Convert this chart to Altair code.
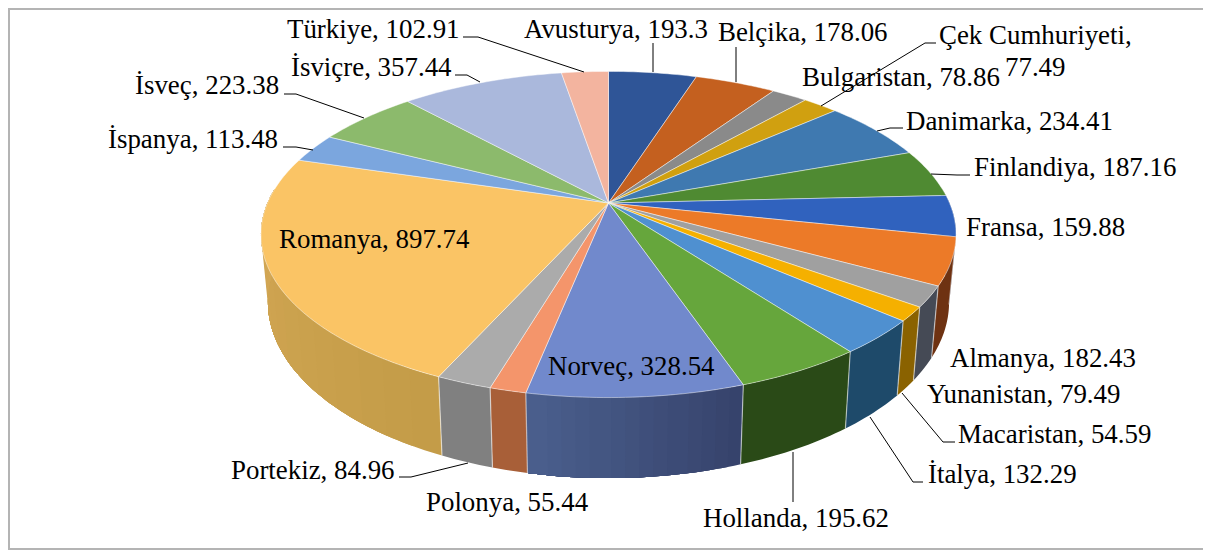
import math
import altair as alt

names = ["Avusturya", "Belçika", "Bulgaristan", "Çek Cumhuriyeti", "Danimarka", "Finlandiya", "Fransa",
         "Almanya", "Yunanistan", "Macaristan", "İtalya", "Hollanda", "Norveç", "Polonya", "Portekiz",
         "Romanya", "İspanya", "İsveç", "İsviçre", "Türkiye"]
values = [193.3, 178.06, 78.86, 77.49, 234.41, 187.16, 159.88, 182.43, 79.49, 54.59, 132.29, 195.62,
          328.54, 55.44, 84.96, 897.74, 113.48, 223.38, 357.44, 102.91]
top_colors = ["#2F5597", "#C4601F", "#8A8A8A", "#D0A010", "#3F79B0", "#4F8A32", "#3062BE", "#EC7A28",
              "#A0A0A0", "#F5B000", "#4F90D0", "#66A63C", "#7189CC", "#F4956B", "#ABABAB", "#FAC465",
              "#7BA6DE", "#8CBA6C", "#AAB8DC", "#F3B49F"]
side_start = ["#1F3864", "#843C0C", "#555555", "#7F6000", "#1F4E79", "#385723", "#203864", "#6E3212",
              "#454A55", "#8A6200", "#1E4A6A", "#2A4A17", "#36436C", "#A85F38", "#808080", "#C49C48",
              "#4A6A9A", "#5A7A40", "#6A78A0", "#A07060"]
side_end = ["#1F3864", "#843C0C", "#555555", "#7F6000", "#1F4E79", "#385723", "#203864", "#6E3212",
            "#454A55", "#8A6200", "#1E4A6A", "#2A4A17", "#4A5E8C", "#A85F38", "#808080", "#D4A855",
            "#4A6A9A", "#5A7A40", "#6A78A0", "#A07060"]

# layout of the picture, in page pixels
OFF = 8
W, H = 1195, 542
CX, CY, A, B, K, DEPTH, SHRINK = 608.5, 203.0, 341.0, 157.0, 0.193, 65.0, 0.98
FONT_SIZE = 26.9

label_lines = [
    ("Avusturya, 193.3", 524, 38), ("Belçika, 178.06", 718, 41), ("Bulgaristan, 78.86", 802, 86),
    ("Çek Cumhuriyeti,", 939, 44), ("77.49", 1005, 76), ("Danimarka, 234.41", 906, 130),
    ("Finlandiya, 187.16", 974, 176), ("Fransa, 159.88", 966, 236), ("Almanya, 182.43", 950, 367),
    ("Yunanistan, 79.49", 927, 403), ("Macaristan, 54.59", 958, 443), ("İtalya, 132.29", 928, 483),
    ("Hollanda, 195.62", 703, 527), ("Norveç, 328.54", 548, 375), ("Polonya, 55.44", 426, 511),
    ("Portekiz, 84.96", 231, 479), ("Romanya, 897.74", 279, 248), ("İspanya, 113.48", 108, 148),
    ("İsveç, 223.38", 135, 94), ("İsviçre, 357.44", 291, 76), ("Türkiye, 102.91", 287, 38),
]
leaders = [
    [(463, 37), (478, 37), (584, 72)], [(455, 75), (467, 75), (480, 82)],
    [(284, 94), (296, 94), (364, 118)], [(283, 147), (296, 147), (313, 150)],
    [(653, 43), (653, 72)], [(736, 47), (736, 82)],
    [(936, 43), (925, 43), (821, 106)], [(903, 128), (890, 128), (877, 131)],
    [(970, 175), (957, 175), (931, 174)], [(955, 442), (943, 442), (902, 393)],
    [(923, 482), (913, 482), (870, 417)], [(793, 452), (793, 502)],
    [(399, 477), (411, 477), (468, 463)],
]


def project(t, depth=0.0):
    """Disc angle (clockwise from 12 o'clock) to picture position, with perspective."""
    X, Y = math.sin(t), -math.cos(t)
    w = 1 - K * Y
    sx = SHRINK if depth else 1.0
    return (CX + sx * A * X / w - OFF, CY + (B * Y + depth) / w - OFF)


def poly(points, fill, stroke="#ffffff"):
    pts = [list(p) for p in points]
    pts.append(pts[0])
    return {"type": "Feature", "properties": {"fill": fill, "stroke": stroke},
            "geometry": {"type": "Polygon", "coordinates": [pts]}}


def line(points):
    return {"type": "Feature", "properties": {},
            "geometry": {"type": "LineString", "coordinates": [list(p) for p in points]}}


def mix(c0, c1, f):
    a = [int(c0[i:i + 2], 16) for i in (1, 3, 5)]
    b = [int(c1[i:i + 2], 16) for i in (1, 3, 5)]
    return "#" + "".join(f"{round(x + (y - x) * f):02X}" for x, y in zip(a, b))


total = sum(values)
angles = [0.0]
for v in values:
    angles.append(angles[-1] + v / total * 2 * math.pi)

tops, walls, seams = [], [], []
for i, (a0, a1) in enumerate(zip(angles[:-1], angles[1:])):
    n = max(2, int((a1 - a0) * 60))
    ts = [a0 + (a1 - a0) * j / n for j in range(n + 1)]
    tops.append(poly([(CX - OFF, CY - OFF)] + [project(t) for t in ts], top_colors[i]))
    # only the part of the wall that faces the viewer
    fs = [t for t in ts if -math.cos(t) > -0.1]
    if len(fs) >= 2:
        # shaded walls are painted over one another, each from its step to the slice's end
        steps = 1 if side_start[i] == side_end[i] else 14
        for s in range(steps):
            rest = fs[s * (len(fs) - 1) // steps:]
            c = mix(side_start[i], side_end[i], s / max(1, steps - 1))
            walls.append(poly([project(t) for t in rest] + [project(t, DEPTH) for t in reversed(rest)], c, c))
    if -math.cos(a0) > 0.1:
        seams.append(line([project(a0), project(a0, DEPTH)]))

fit_box = [{"type": "Feature", "properties": {},
            "geometry": {"type": "Polygon", "coordinates": [[[0, 0], [W, 0], [W, H], [0, H], [0, 0]]]}}]
frame = [line([(W, 1), (1, 1), (1, H - 1), (W, H - 1)])]

box = alt.Chart(alt.Data(values=fit_box)).mark_geoshape(fillOpacity=0, strokeOpacity=0, fill="#ffffff")
frm = alt.Chart(alt.Data(values=frame)).mark_geoshape(filled=False, stroke="#B4B4B4", strokeWidth=2)

wall_layer = alt.Chart(alt.Data(values=walls)).mark_geoshape(strokeWidth=0).encode(
    fill=alt.Fill("properties.fill:N", scale=None))
seam_layer = alt.Chart(alt.Data(values=seams)).mark_geoshape(
    filled=False, stroke="#FFFFFF", strokeOpacity=0.55, strokeWidth=1.2)
top_layer = alt.Chart(alt.Data(values=tops)).mark_geoshape(strokeWidth=1, strokeOpacity=0.45).encode(
    fill=alt.Fill("properties.fill:N", scale=None),
    stroke=alt.Stroke("properties.stroke:N", scale=None))
lead_rows = [line([(x - OFF, y - OFF) for x, y in l]) for l in leaders]
lead_layer = alt.Chart(alt.Data(values=lead_rows)).mark_geoshape(
    filled=False, stroke="#000000", strokeWidth=1)

text_rows = [{"t": t, "lon": x - OFF, "lat": y - OFF} for t, x, y in label_lines]
text_layer = alt.Chart(alt.Data(values=text_rows)).mark_text(
    align="left", baseline="alphabetic", font="Liberation Serif", fontSize=FONT_SIZE, color="#000000"
).encode(longitude="lon:Q", latitude="lat:Q", text="t:N")

chart = alt.layer(box, frm, wall_layer, seam_layer, top_layer, lead_layer, text_layer).properties(
    width=W, height=H, projection=alt.Projection(type="identity"), padding=0,
    autosize=alt.AutoSizeParams(type="none"), background="#ffffff",
).configure_view(stroke=None)

chart.save("out.html", embed_options={"renderer": "svg", "actions": False})
